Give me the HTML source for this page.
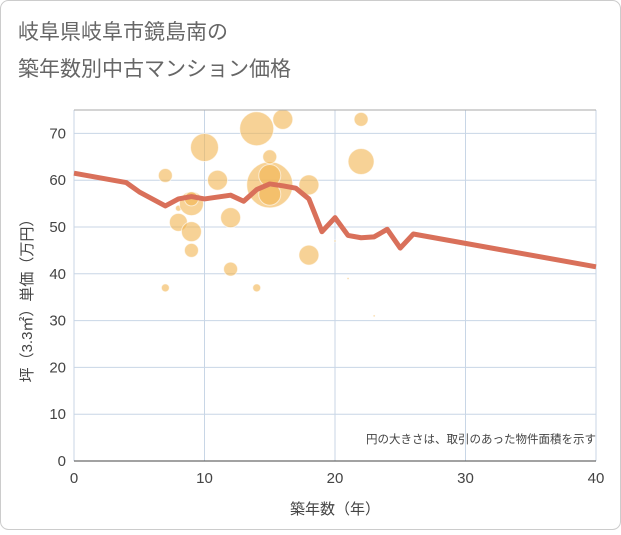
<!DOCTYPE html>
<html><head><meta charset="utf-8"><style>
body{margin:0;background:#fff}
#c{width:621px;height:530px;position:relative;font-family:"Liberation Sans","Noto Sans CJK JP",sans-serif}
</style></head><body>
<div id="c">
<svg id="s" width="621" height="530" xmlns="http://www.w3.org/2000/svg">
<rect x="0.5" y="0.5" width="620" height="529" rx="8" fill="#fff" stroke="#ccc"/>
<text x="18" y="39" font-size="21" fill="#666" font-family="Liberation Sans, Noto Sans CJK JP, sans-serif">岐阜県岐阜市鏡島南の</text>
<text x="18" y="76" font-size="21" fill="#666" font-family="Liberation Sans, Noto Sans CJK JP, sans-serif">築年数別中古マンション価格</text>
<g id="grid"></g><g id="bub"></g><g id="ln"></g><g id="ax"></g>
<text x="596" y="443" font-size="11.5" fill="#444" text-anchor="end" font-family="Liberation Sans, Noto Sans CJK JP, sans-serif">円の大きさは、取引のあった物件面積を示す</text>
<text x="335" y="514" font-size="15" fill="#444" text-anchor="middle" font-family="Liberation Sans, Noto Sans CJK JP, sans-serif">築年数（年）</text>
<text transform="translate(32,297) rotate(-90)" font-size="15" fill="#444" text-anchor="middle" font-family="Liberation Sans, Noto Sans CJK JP, sans-serif">坪（3.3㎡）単価（万円）</text>
</svg></div>
<script>
const xTicks=[0,10,20,30,40];
const yTicks=[0,10,20,30,40,50,60,70];
const bubX=[7,7,8,8,9,9,9,9,10,11,12,12,14,14,15,15,15,15,16,18,18,22,22,20,21,23];
const bubY=[61,37,51,54,55,49,45,56,67,60,52,41,71,37,59,61,57,65,73,59,44,73,64,47,39,31];
const bubR=[7,4,9,3,12,10,7,7,14,10,10,7,17,4,23,11,11,7,10,10,10,7,13,1,1,1];
const lineX=[0,4,5,7,8,9,10,12,13,14,15,16,17,18,19,20,21,22,23,24,25,26,40];
const lineY=[61.5,59.5,57.5,54.5,56,56.5,56,56.8,55.5,58,59.2,58.8,58.3,56,49,52,48.2,47.7,47.9,49.5,45.5,48.5,41.5];
const X0=74,X1=596,Y0=461,Y1=110,YMAX=75;
const sx=v=>X0+(X1-X0)*v/40, sy=v=>Y0-(Y0-Y1)*v/YMAX;
const NS="http://www.w3.org/2000/svg";
function mk(p,t,a){const e=document.createElementNS(NS,t);for(const k in a)e.setAttribute(k,a[k]);document.getElementById(p).appendChild(e);return e;}
const bg=mk('grid','rect',{x:X0,y:Y1,width:X1-X0,height:Y0-Y1,fill:'#fff'});


xTicks.forEach(t=>{const l=mk('grid','line',{x1:sx(t),x2:sx(t),y1:Y1,y2:Y0,stroke:'#c8d6e6'});


const tx=mk('ax','text',{x:sx(t),y:Y0+22,'font-size':15,fill:'#444','text-anchor':'middle'});tx.textContent=t;

});
yTicks.forEach(t=>{const l=mk('grid','line',{x1:X0,x2:X1,y1:sy(t),y2:sy(t),stroke:'#c8d6e6'});


const tx=mk('ax','text',{x:X0-8,y:sy(t)+5,'font-size':15,fill:'#444','text-anchor':'end'});tx.textContent=t;

});
const topLine=mk('ax','line',{x1:X0,x2:X1,y1:Y1,y2:Y1,stroke:'#aaa'});


const xa=mk('ax','line',{x1:X0,x2:X1,y1:Y0,y2:Y0,stroke:'#444'});


bubX.forEach((x,i)=>{const c=mk('bub','circle',{cx:sx(x),cy:sy(bubY[i]),r:bubR[i],fill:'rgba(242,180,80,0.6)',stroke:'rgba(255,255,255,0.6)'});

});
const p=mk('ln','polyline',{points:lineX.map((x,i)=>sx(x)+','+sy(lineY[i])).join(' '),fill:'none',stroke:'#d9705a','stroke-width':5,'stroke-linejoin':'round'});


</script>
</body></html>
